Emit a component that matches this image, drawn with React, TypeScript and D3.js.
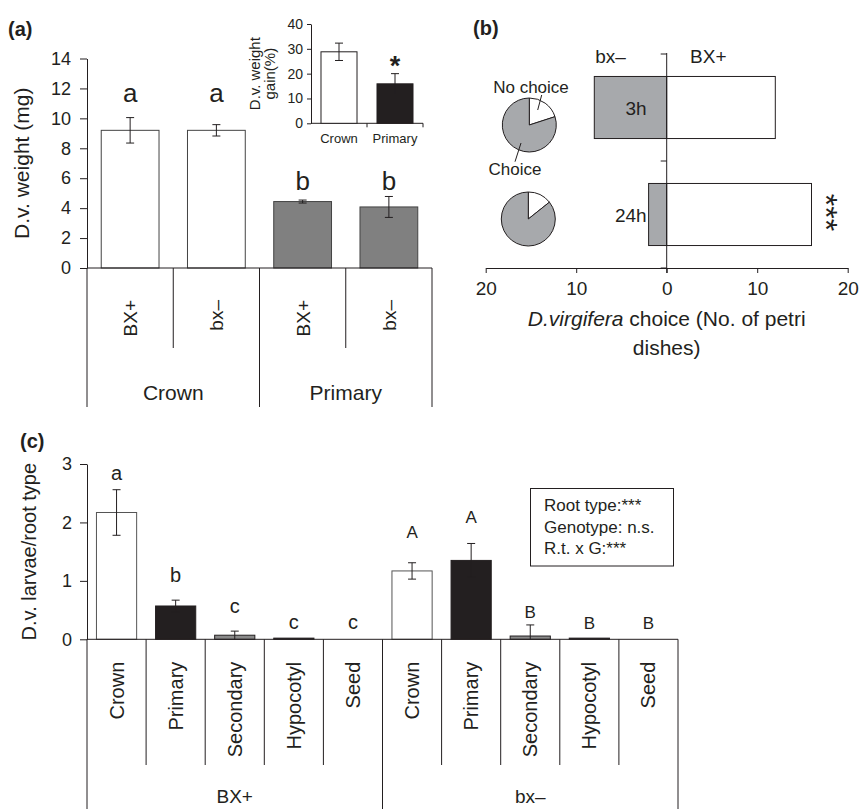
import React, { useEffect, useRef } from "react";
import * as d3 from "d3";

const FONT = "'Liberation Sans', Arial, Helvetica, sans-serif";
const INK = "#231f20";

// (a) larval weight per root type and genotype
const weightCats = ["BX+", "bx\u2013", "BX+", "bx\u2013"];
const weightGroups = ["Crown", "Primary"];
const weightMean = [9.2, 9.2, 4.44, 4.08];
const weightErr = [0.85, 0.38, 0.1, 0.7];
const weightFill = ["#ffffff", "#ffffff", "#808080", "#808080"];
const weightLetters = ["a", "a", "b", "b"];
const weightLetterY = [11.1, 11.1, 5.2, 5.2];
const weightTicks = [0, 2, 4, 6, 8, 10, 12, 14];

// (a) inset: weight gain
const gainCats = ["Crown", "Primary"];
const gainMean = [28.8, 15.9];
const gainErr = [3.5, 4.1];
const gainFill = ["#ffffff", INK];
const gainTicks = [0, 10, 20, 30, 40];

// (b) choice experiment
const choiceTimes = ["3h", "24h"];
const choiceBx = [8, 2];
const choiceBX = [12, 16];
const noChoice = [5, 3];
const choiceTicks = [-20, -10, 0, 10, 20];

// (c) larvae per root type
const rootTypes = ["Crown", "Primary", "Secondary", "Hypocotyl", "Seed"];
const genotypes = ["BX+", "bx\u2013"];
const rootFill = ["#ffffff", INK, "#8a8a8a", "#3a3a3a", "#ffffff"];
const larvaeBX = [2.17, 0.57, 0.07, 0.02, 0];
const larvaeBXErr = [0.39, 0.1, 0.07, 0, 0];
const larvaeBx = [1.17, 1.35, 0.056, 0.02, 0];
const larvaeBxErr = [0.14, 0.29, 0.19, 0, 0];
const lettersBX = ["a", "b", "c", "c", "c"];
const lettersBXY = [2.73, 0.98, 0.45, 0.18, 0.18];
const lettersBx = ["A", "A", "B", "B", "B"];
const lettersBxY = [1.74, 1.99, 0.36, 0.18, 0.18];
const larvaeTicks = [0, 1, 2, 3];
const statsLines = ["Root type:***", "Genotype: n.s.", "R.t. x G:***"];

function errorBar(g: any, x: number, yTop: number, yBot: number, drawBottom: boolean, cap = 4) {
  g.append("line").attr("x1", x).attr("x2", x).attr("y1", yTop).attr("y2", yBot).attr("stroke", INK);
  g.append("line").attr("x1", x - cap).attr("x2", x + cap).attr("y1", yTop).attr("y2", yTop).attr("stroke", INK);
  if (drawBottom)
    g.append("line").attr("x1", x - cap).attr("x2", x + cap).attr("y1", yBot).attr("y2", yBot).attr("stroke", INK);
}

export default function App() {
  const svgRef = useRef<SVGSVGElement>(null);
  const width = 861;
  const height = 809;

  useEffect(() => {
    if (!svgRef.current) return;
    const svg = d3.select(svgRef.current);
    svg.selectAll("*").remove();
    svg.attr("font-family", FONT);

    // ================= (a) =================
    const a = svg.append("g");
    a.append("text").attr("x", 8).attr("y", 36).attr("font-size", 20).attr("font-weight", "bold").attr("fill", INK).text("(a)");

    const xA = d3.scaleBand<number>().domain(d3.range(4)).range([87, 432]).paddingInner(0.33).paddingOuter(0.165);
    const yA = d3.scaleLinear().domain([0, 14]).range([268, 58.5]);

    const axA = a.append("g").attr("transform", "translate(87,0)")
      .call(d3.axisLeft(yA).tickValues(weightTicks).tickFormat(d3.format("d")).tickSize(7).tickPadding(9).tickSizeOuter(0));
    axA.attr("font-family", FONT).attr("font-size", 18);
    axA.selectAll("path, line").attr("stroke", INK);
    axA.selectAll("text").attr("fill", INK);

    a.append("text").attr("transform", `translate(29,${(yA(0) + yA(14)) / 2}) rotate(-90)`)
      .attr("text-anchor", "middle").attr("font-size", 21).attr("fill", INK).text("D.v. weight (mg)");

    weightMean.forEach((v, i) => {
      a.append("rect").attr("x", xA(i)!).attr("width", xA.bandwidth())
        .attr("y", yA(v)).attr("height", yA(0) - yA(v))
        .attr("fill", weightFill[i]).attr("stroke", "#444");
      const cx = xA(i)! + xA.bandwidth() / 2;
      errorBar(a, cx, yA(v + weightErr[i]), yA(v - weightErr[i]), true);
      a.append("text").attr("x", cx).attr("y", yA(weightLetterY[i])).attr("text-anchor", "middle")
        .attr("font-size", 26).attr("fill", INK).text(weightLetters[i]);
    });

    a.append("line").attr("x1", 87).attr("x2", 432).attr("y1", yA(0)).attr("y2", yA(0)).attr("stroke", INK);
    const stepA = xA.step();
    d3.range(5).forEach((i) => {
      const x = 87 + i * stepA;
      a.append("line").attr("x1", x).attr("x2", x).attr("y1", yA(0))
        .attr("y2", i % 2 === 0 ? 407 : 348).attr("stroke", INK);
    });
    weightCats.forEach((c, i) => {
      const cx = 87 + (i + 0.5) * stepA;
      a.append("text").attr("transform", `translate(${cx + 7},300) rotate(-90)`)
        .attr("text-anchor", "end").attr("font-size", 19).attr("fill", INK).text(c);
    });
    weightGroups.forEach((gname, i) => {
      a.append("text").attr("x", 87 + (i * 2 + 1) * stepA).attr("y", 400)
        .attr("text-anchor", "middle").attr("font-size", 21).attr("fill", INK).text(gname);
    });

    // inset
    const xI = d3.scaleBand<number>().domain(d3.range(2)).range([311, 423]).paddingInner(0.357).paddingOuter(0.1785);
    const yI = d3.scaleLinear().domain([0, 40]).range([123.3, 24]);
    const axI = a.append("g").attr("transform", "translate(311,0)")
      .call(d3.axisLeft(yI).tickValues(gainTicks).tickFormat(d3.format("d")).tickSize(4).tickPadding(4).tickSizeOuter(0));
    axI.attr("font-family", FONT).attr("font-size", 14);
    axI.selectAll("path, line").attr("stroke", INK);
    axI.selectAll("text").attr("fill", INK);
    a.append("line").attr("x1", 311).attr("x2", 423).attr("y1", yI(0)).attr("y2", yI(0)).attr("stroke", INK);
    [1, 2].forEach((i) => {
      const x = 311 + i * xI.step();
      a.append("line").attr("x1", x).attr("x2", x).attr("y1", yI(0)).attr("y2", yI(0) + 4).attr("stroke", INK);
    });
    const midI = (yI(0) + yI(40)) / 2;
    a.append("text").attr("transform", `translate(259.5,${midI}) rotate(-90)`).attr("text-anchor", "middle")
      .attr("font-size", 15).attr("fill", INK).text("D.v. weight");
    a.append("text").attr("transform", `translate(275,${midI}) rotate(-90)`).attr("text-anchor", "middle")
      .attr("font-size", 15).attr("fill", INK).text("gain(%)");
    gainMean.forEach((v, i) => {
      a.append("rect").attr("x", xI(i)!).attr("width", xI.bandwidth())
        .attr("y", yI(v)).attr("height", yI(0) - yI(v))
        .attr("fill", gainFill[i]).attr("stroke", INK);
      const cx = xI(i)! + xI.bandwidth() / 2;
      errorBar(a, cx, yI(v + gainErr[i]), yI(v - gainErr[i]), i === 0);
      a.append("text").attr("x", cx).attr("y", 143).attr("text-anchor", "middle")
        .attr("font-size", 13).attr("fill", INK).text(gainCats[i]);
    });
    a.append("text").attr("x", xI(1)! + xI.bandwidth() / 2).attr("y", 75).attr("text-anchor", "middle")
      .attr("font-size", 27).attr("font-weight", "bold").attr("fill", INK).text("*");

    // ================= (b) =================
    const b = svg.append("g");
    b.append("text").attr("x", 473).attr("y", 35).attr("font-size", 20).attr("font-weight", "bold").attr("fill", INK).text("(b)");

    const xB = d3.scaleLinear().domain([-20, 20]).range([485.7, 847.7]);
    const yB = d3.scaleBand<string>().domain(choiceTimes).range([54, 268]).paddingInner(0.42).paddingOuter(0.21);

    choiceTimes.forEach((t, i) => {
      b.append("rect").attr("x", xB(-choiceBx[i])).attr("width", xB(0) - xB(-choiceBx[i]))
        .attr("y", yB(t)!).attr("height", yB.bandwidth()).attr("fill", "#a7a9ac").attr("stroke", INK);
      b.append("rect").attr("x", xB(0)).attr("width", xB(choiceBX[i]) - xB(0))
        .attr("y", yB(t)!).attr("height", yB.bandwidth()).attr("fill", "#ffffff").attr("stroke", INK);
      b.append("text").attr("x", xB(0) - 20).attr("y", yB(t)! + yB.bandwidth() / 2).attr("dy", "0.42em")
        .attr("text-anchor", "end").attr("font-size", 19).attr("fill", INK).text(t);
    });

    const axB = b.append("g").attr("transform", "translate(0,268)")
      .call(d3.axisBottom(xB).tickValues(choiceTicks).tickFormat((d) => String(Math.abs(+d))).tickSize(5).tickPadding(9).tickSizeOuter(0));
    axB.attr("font-family", FONT).attr("font-size", 19);
    axB.selectAll("path, line").attr("stroke", INK);
    axB.selectAll("text").attr("fill", INK);

    b.append("line").attr("x1", xB(0)).attr("x2", xB(0)).attr("y1", 53).attr("y2", 273).attr("stroke", INK);
    [0, 1, 2].forEach((i) => {
      const y = 54 + i * yB.step();
      b.append("line").attr("x1", xB(0) - 6).attr("x2", xB(0)).attr("y1", y).attr("y2", y).attr("stroke", INK);
    });

    b.append("text").attr("x", xB(-6.2)).attr("y", 63).attr("text-anchor", "middle").attr("font-size", 19).attr("fill", INK).text(genotypes[1]);
    b.append("text").attr("x", xB(4.6)).attr("y", 63).attr("text-anchor", "middle").attr("font-size", 19).attr("fill", INK).text(genotypes[0]);

    const t1 = b.append("text").attr("x", xB(0)).attr("y", 326).attr("text-anchor", "middle").attr("font-size", 21).attr("fill", INK);
    t1.append("tspan").attr("font-style", "italic").text("D.virgifera");
    t1.append("tspan").text(" choice (No. of petri");
    b.append("text").attr("x", xB(0)).attr("y", 355).attr("text-anchor", "middle").attr("font-size", 21).attr("fill", INK).text("dishes)");

    // pies
    const pieCenters = [[529.3, 125], [528.3, 219]];
    const pie = d3.pie<number>().sort(null).value((d) => d);
    const arc = d3.arc<d3.PieArcDatum<number>>().innerRadius(0).outerRadius(27);
    choiceTimes.forEach((t, i) => {
      const chose = choiceBx[i] + choiceBX[i];
      const pg = b.append("g").attr("transform", `translate(${pieCenters[i][0]},${pieCenters[i][1]})`);
      pg.selectAll("path").data(pie([noChoice[i], chose])).enter().append("path")
        .attr("d", arc as any).attr("fill", (_d, j) => (j === 0 ? "#ffffff" : "#a7a9ac"))
        .attr("stroke", INK).attr("stroke-width", 1);
    });
    b.append("text").attr("x", 531).attr("y", 92.7).attr("text-anchor", "middle").attr("font-size", 17).attr("fill", INK).text("No choice");
    b.append("line").attr("x1", 541.7).attr("y1", 95).attr("x2", 537.7).attr("y2", 110).attr("stroke", INK);
    b.append("text").attr("x", 515).attr("y", 175).attr("text-anchor", "middle").attr("font-size", 17).attr("fill", INK).text("Choice");
    b.append("line").attr("x1", 521).attr("y1", 143).attr("x2", 515).attr("y2", 161.7).attr("stroke", INK);

    b.append("text").attr("transform", `translate(${xB(choiceBX[1]) + 3},${yB("24h")! + yB.bandwidth() / 2 - 2}) rotate(90)`)
      .attr("text-anchor", "middle").attr("font-size", 32).attr("fill", INK).text("***");

    // ================= (c) =================
    const c = svg.append("g");
    c.append("text").attr("x", 20).attr("y", 448).attr("font-size", 20).attr("font-weight", "bold").attr("fill", INK).text("(c)");

    const cats = d3.range(10);
    const xC = d3.scaleBand<number>().domain(cats).range([87, 678]).paddingInner(0.32).paddingOuter(0.16);
    const yC = d3.scaleLinear().domain([0, 3]).range([639.3, 464]);

    const axC = c.append("g").attr("transform", "translate(87,0)")
      .call(d3.axisLeft(yC).tickValues(larvaeTicks).tickFormat(d3.format("d")).tickSize(7).tickPadding(8).tickSizeOuter(0));
    axC.attr("font-family", FONT).attr("font-size", 18);
    axC.selectAll("path, line").attr("stroke", INK);
    axC.selectAll("text").attr("fill", INK);

    c.append("text").attr("transform", `translate(36,${(yC(0) + yC(3)) / 2}) rotate(-90)`)
      .attr("text-anchor", "middle").attr("font-size", 20).attr("fill", INK).text("D.v. larvae/root type");

    const means = [...larvaeBX, ...larvaeBx];
    const errs = [...larvaeBXErr, ...larvaeBxErr];
    const letters = [...lettersBX, ...lettersBx];
    const letterY = [...lettersBXY, ...lettersBxY];
    cats.forEach((i) => {
      const v = means[i];
      const cx = xC(i)! + xC.bandwidth() / 2;
      if (v > 0) {
        c.append("rect").attr("x", xC(i)!).attr("width", xC.bandwidth())
          .attr("y", yC(v)).attr("height", yC(0) - yC(v))
          .attr("fill", rootFill[i % 5]).attr("stroke", i % 5 === 0 ? "#555" : INK);
      }
      if (errs[i] > 0) {
        const lo = Math.max(0, v - errs[i]);
        errorBar(c, cx, yC(v + errs[i]), yC(lo), v - errs[i] > 0);
      }
      c.append("text").attr("x", cx).attr("y", yC(letterY[i])).attr("text-anchor", "middle")
        .attr("font-size", i < 5 ? 20 : 17).attr("fill", INK).text(letters[i]);
      c.append("text").attr("transform", `translate(${cx + 7},661.7) rotate(-90)`)
        .attr("text-anchor", "end").attr("font-size", 20).attr("fill", INK).text(rootTypes[i % 5]);
    });

    c.append("line").attr("x1", 87).attr("x2", 678).attr("y1", yC(0)).attr("y2", yC(0)).attr("stroke", INK);
    d3.range(11).forEach((i) => {
      const x = 87 + i * xC.step();
      c.append("line").attr("x1", x).attr("x2", x).attr("y1", yC(0))
        .attr("y2", i % 5 === 0 ? 809 : 765).attr("stroke", INK);
    });
    genotypes.forEach((gname, i) => {
      c.append("text").attr("x", 87 + (i * 5 + 2.5) * xC.step()).attr("y", 803)
        .attr("text-anchor", "middle").attr("font-size", 19).attr("fill", INK).text(gname);
    });

    // stats box
    c.append("rect").attr("x", 530.5).attr("y", 488.5).attr("width", 143).attr("height", 77.5)
      .attr("fill", "#ffffff").attr("stroke", INK);
    statsLines.forEach((s, i) => {
      c.append("text").attr("x", 544).attr("y", 511 + i * 21.5).attr("font-size", 17).attr("fill", INK).text(s);
    });
  }, []);

  return (
    <svg
      ref={svgRef}
      width={width}
      height={height}
      viewBox={`0 0 ${width} ${height}`}
      style={{ position: "absolute", left: 0, top: 0, background: "#fff" }}
    />
  );
}
